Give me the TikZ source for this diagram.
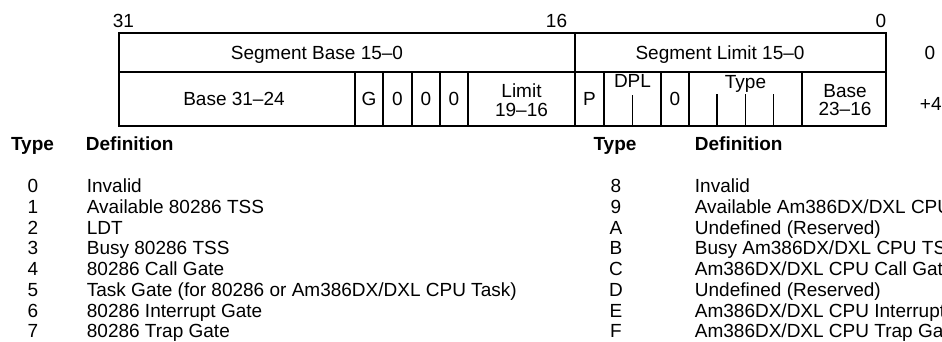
\documentclass[tikz,border=0pt]{standalone}
\usepackage{fontspec}
\setmainfont{Liberation Sans}
\begin{document}
\begin{tikzpicture}[x=1pt,y=-1pt,line width=1.8pt,
  txt/.style={inner sep=0pt,font=\fontsize{19}{20}\selectfont,text height=13.6pt,text depth=0pt},
  two/.style={inner sep=0pt,font=\fontsize{19}{18.5}\selectfont,align=center},
  hdr/.style={txt,font=\fontsize{19}{20}\selectfont\bfseries},
  tick/.style={line width=1.5pt}]
\useasboundingbox (0,0) rectangle (942,341);
\clip (0,0) rectangle (942,341);

% descriptor frame: two 32-bit rows
\coordinate (tl) at (119,32.7);
\coordinate (br) at (886,126);
\draw (tl) rectangle (br);
\draw (119,71.7) -- (886,71.7);
\draw (575,32.7) -- (575,126);
\foreach \xx in {355,383,412,440,468,604,661,689,802}
  \draw (\xx,71.7) -- (\xx,126);
% bit ticks inside DPL and Type fields
\draw[tick] (632.5,95) -- (632.5,126);
\foreach \xx in {717.2,745.5,773.7}
  \draw[tick] (\xx,94) -- (\xx,126);

% bit numbers
\node[txt,anchor=west] (b31) at (112,21) {31};
\node[txt,anchor=east] (b16) at (568,21) {16};
\node[txt,anchor=east] (b0)  at (887,21) {0};

% first row
\node[txt] (segbase)  at (317,52.2) {Segment Base 15–0};
\node[txt] (seglimit) at (720,52.2) {Segment Limit 15–0};

% second row
\node[txt] (base3124) at (234,99) {Base 31–24};
\node[txt] (g)   at (369,99) {G};
\node[txt] (z1)  at (397.5,99) {0};
\node[txt] (z2)  at (426,99) {0};
\node[txt] (z3)  at (454,99) {0};
\node[two] (lim) at (521.5,100) {Limit\\19–16};
\node[txt] (p)   at (589.5,99) {P};
\node[txt] (dpl) at (632.5,81) {DPL};
\node[txt] (z4)  at (675,99) {0};
\node[txt] (typ) at (745.5,81.5) {Type};
\node[two] (b2316) at (845,100) {Base\\23–16};

% byte offsets
\node[txt] (off0) at (930,52.2) {0};
\node[txt,anchor=west] (off4) at (919,104) {+4};

% type table, left half
\node[hdr] (lth) at (32.5,144) {Type};
\node[hdr,anchor=west] (ldh) at (85,144) {Definition};
\foreach [count=\i from 0] \t in {Invalid,Available 80286 TSS,LDT,Busy 80286 TSS,80286 Call Gate,Task Gate (for 80286 or Am386DX/DXL CPU Task),80286 Interrupt Gate,80286 Trap Gate}{
  \node[txt] (ln\i) at (33,186+20.7*\i) {\i};
  \node[txt,anchor=west] (ld\i) at (86,186+20.7*\i) {\t};
}

% type table, right half
\node[hdr] (rth) at (615,144) {Type};
\node[hdr,anchor=west] (rdh) at (694,144) {Definition};
\foreach [count=\i from 0] \c/\t in {8/{Invalid},9/{Available Am386DX/DXL CPU TSS},A/{Undefined (Reserved)},B/{Busy Am386DX/DXL CPU TSS},C/{Am386DX/DXL CPU Call Gate},D/{Undefined (Reserved)},E/{Am386DX/DXL CPU Interrupt Gate},F/{Am386DX/DXL CPU Trap Gate}}{
  \node[txt] (rn\i) at (616,186+20.7*\i) {\c};
  \node[txt,anchor=west] (rd\i) at (694,186+20.7*\i) {\t};
}
\end{tikzpicture}
\end{document}
